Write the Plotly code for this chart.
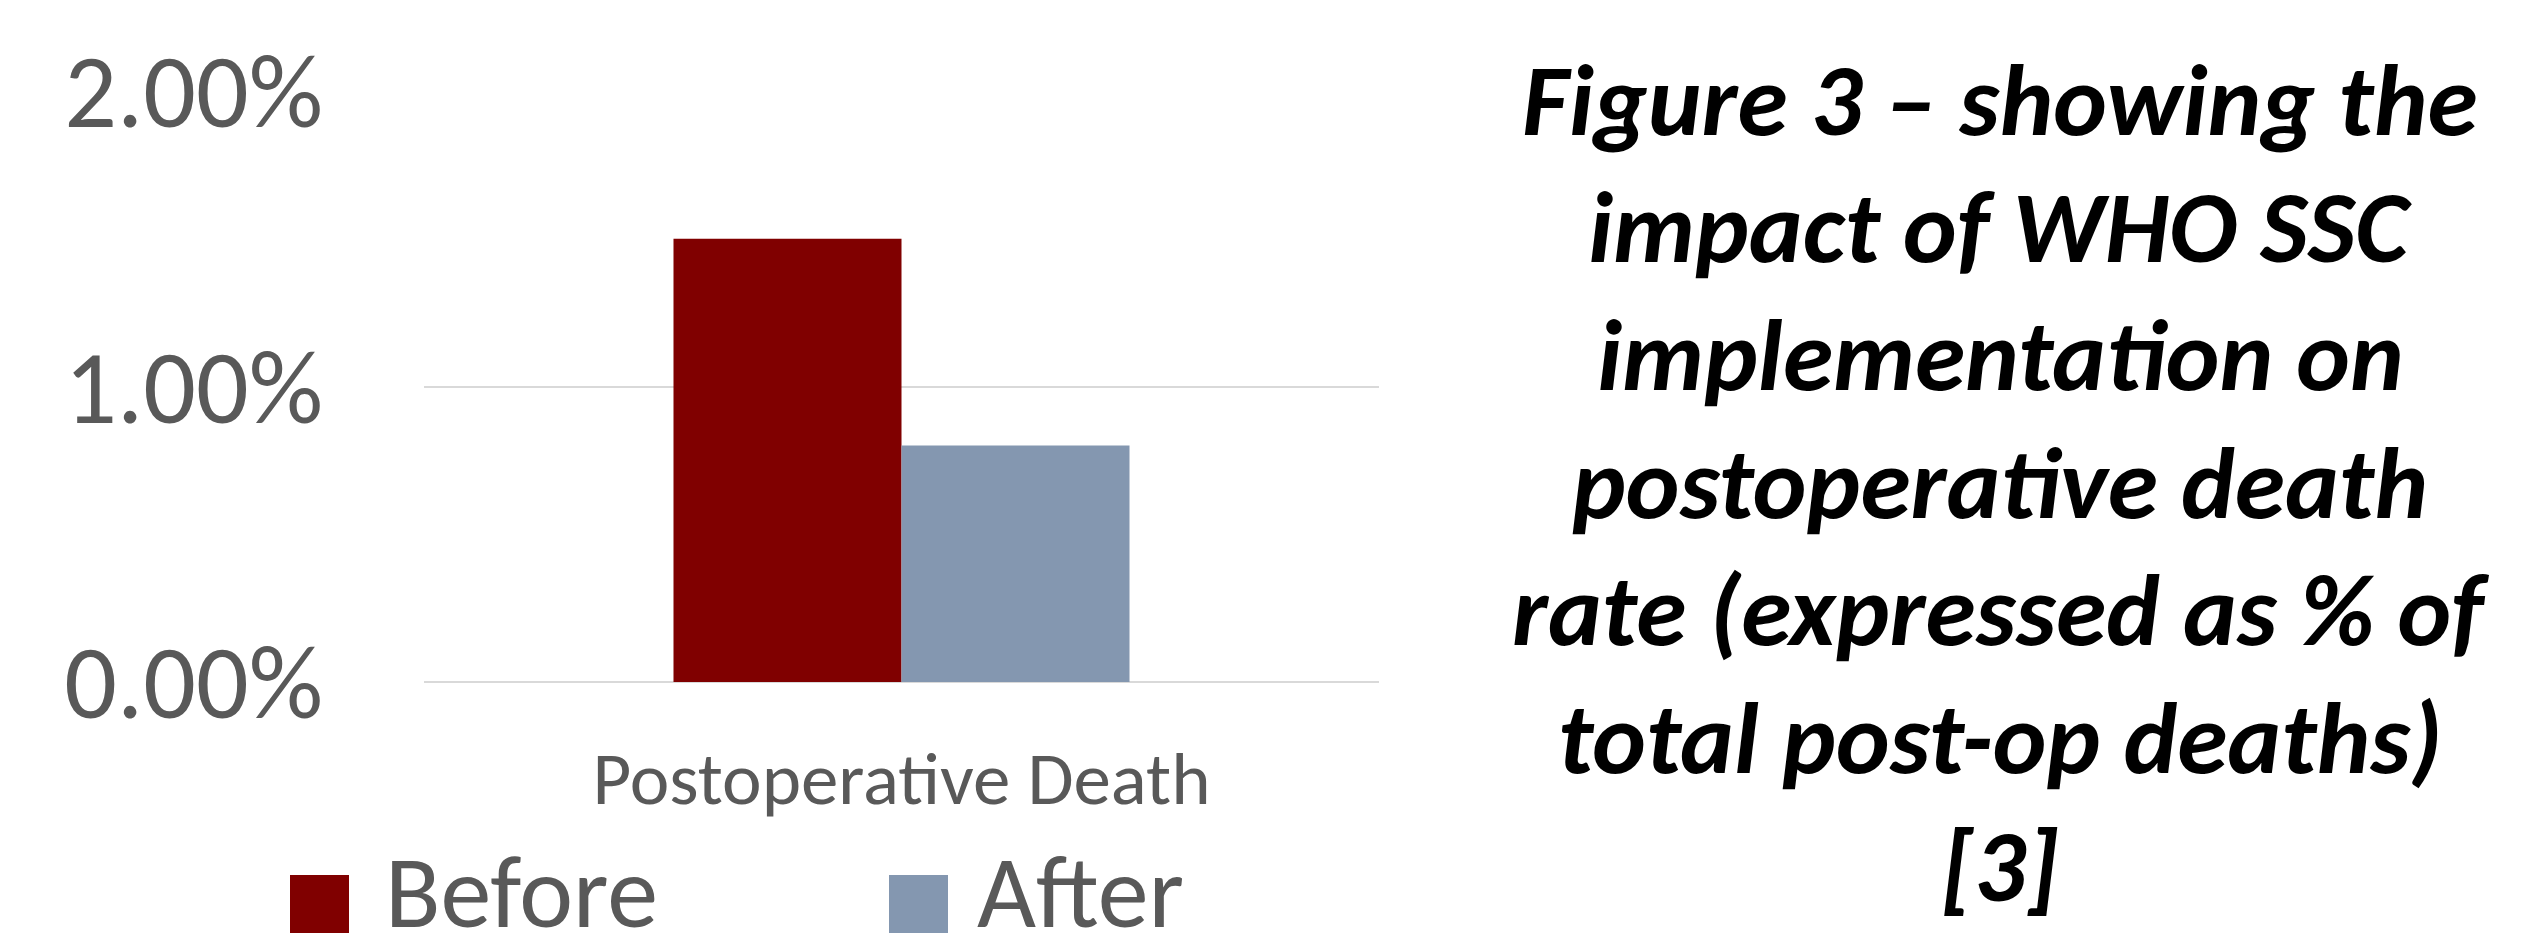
import plotly.graph_objects as go

# ---- data ----
categories = ["Postoperative Death"]
series_names = ["Before", "After"]
before_values = [0.015]
after_values = [0.008]
series_colors = ["#800000", "#8497B0"]
title_lines = [
    "Figure 3 \u2013 showing the",
    "impact of WHO SSC",
    "implementation on",
    "postoperative death",
    "rate (expressed as % of",
    "total post-op deaths)",
    "[3]",
]

W, H = 2521, 938
L, R, T, B = 424, 1379, 91, 682  # plot area in pixels


def px_x(x):
    return (x - L) / (R - L)


def px_y(y):
    return (B - y) / (B - T)


FONT = "Calibri, Carlito, Lato, sans-serif"
GREY = "#595959"

fig = go.Figure()
for name, vals, col in zip(series_names, [before_values, after_values], series_colors):
    fig.add_trace(go.Bar(x=categories, y=vals, name=name, marker=dict(color=col, line=dict(width=0)),
                         showlegend=False))

fig.update_layout(
    width=W, height=H, autosize=False,
    margin=dict(l=L, r=W - R, t=T, b=H - B, pad=0),
    paper_bgcolor="white", plot_bgcolor="white",
    barmode="group", bargap=0.5225, bargroupgap=0,
    font=dict(family=FONT, color=GREY),
)
fig.update_yaxes(range=[0, 0.02], dtick=0.01, tick0=0, tickformat=".2%",
                 showgrid=True, gridcolor="#d9d9d9", gridwidth=2,
                 zeroline=True, zerolinecolor="#d9d9d9", zerolinewidth=2,
                 showline=False, ticks="", ticklabelstandoff=100,
                 tickfont=dict(family=FONT, size=104, color=GREY))
fig.update_xaxes(showline=False, ticks="", showgrid=False, ticklabelstandoff=46,
                 tickfont=dict(family=FONT, size=75, color=GREY))

# legend (drawn manually so the swatches can be large)
LEG_SIZE = 102
legend_items = [(series_names[0], series_colors[0], 290, 383), (series_names[1], series_colors[1], 889, 975)]
for name, col, sx, tx in legend_items:
    fig.add_shape(type="rect", xref="paper", yref="paper",
                  x0=px_x(sx), x1=px_x(sx + 59), y0=px_y(933), y1=px_y(875),
                  fillcolor=col, line=dict(width=0))
    fig.add_annotation(text=name, xref="paper", yref="paper", x=px_x(tx), y=px_y(931 - 0.387 * LEG_SIZE),
                       xanchor="left", yanchor="middle", showarrow=False,
                       font=dict(family=FONT, size=LEG_SIZE, color=GREY))

# caption text on the right
CAP_SIZE = 102
for i, line in enumerate(title_lines):
    baseline = 139 + 127.7 * i
    fig.add_annotation(text="<b><i>" + line + "</i></b>", xref="paper", yref="paper",
                       x=px_x(2000), y=px_y(baseline - 0.387 * CAP_SIZE), xanchor="center", yanchor="middle",
                       showarrow=False, font=dict(family=FONT, size=CAP_SIZE, color="black"))

fig.write_html("out.html")
